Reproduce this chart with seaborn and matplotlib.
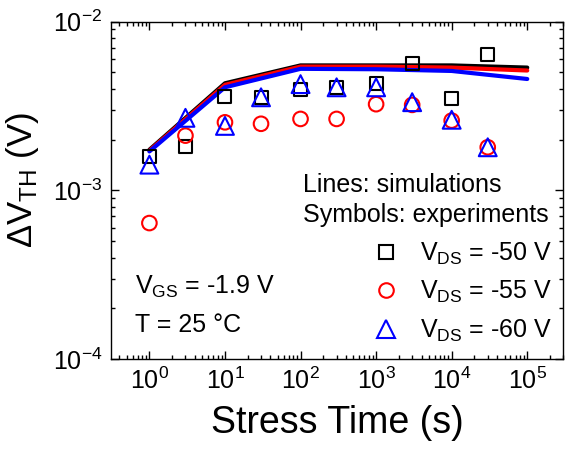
import numpy as np
import pandas as pd
import matplotlib
matplotlib.use('Agg')
import matplotlib.pyplot as plt
import seaborn as sns
from matplotlib.lines import Line2D
from matplotlib.ticker import LogLocator, FixedLocator, NullFormatter

sns.set_style('ticks', {'text.color': 'black', 'axes.labelcolor': 'black',
                        'xtick.color': 'black', 'ytick.color': 'black',
                        'axes.edgecolor': 'black'})
plt.rcParams['font.family'] = ['Liberation Sans', 'DejaVu Sans']
plt.rcParams['mathtext.fontset'] = 'custom'
plt.rcParams['mathtext.rm'] = 'Liberation Sans'
plt.rcParams['mathtext.it'] = 'Liberation Sans'

# experiment times and measured shifts
t_exp = [1, 3, 10, 30, 100, 300, 1000, 3000, 10000, 30000]
dvth_50 = [1.58e-3, 1.82e-3, 3.6e-3, 3.56e-3, 3.98e-3, 4.07e-3, 4.32e-3, 5.68e-3, 3.48e-3, 6.35e-3]
dvth_55 = [6.4e-4, 2.11e-3, 2.53e-3, 2.48e-3, 2.65e-3, 2.65e-3, 3.24e-3, 3.21e-3, 2.59e-3, 1.80e-3]
dvth_60 = [1.42e-3, 2.69e-3, 2.41e-3, 3.56e-3, 4.26e-3, 4.08e-3, 4.08e-3, 3.33e-3, 2.62e-3, 1.80e-3]

# simulation curves
t_sim = [1, 10, 100, 1000, 10000, 100000]
sim_50 = [1.74e-3, 4.31e-3, 5.5e-3, 5.5e-3, 5.5e-3, 5.34e-3]
sim_55 = [1.72e-3, 4.22e-3, 5.41e-3, 5.41e-3, 5.34e-3, 5.13e-3]
sim_60 = [1.70e-3, 4.08e-3, 5.25e-3, 5.22e-3, 5.1e-3, 4.57e-3]

x_ticks = [1, 10, 100, 1000, 10000, 100000]
y_ticks = [1e-4, 1e-3, 1e-2]

labels = ['-50', '-55', '-60']
colors = ['black', 'red', 'blue']
markers = ['s', 'o', '^']
msizes = [88, 110, 165]

fig = plt.figure(figsize=(5.69, 4.5), dpi=100)
ax = fig.add_axes([0.195, 0.202, 0.795, 0.750])

for sim, c in zip([sim_50, sim_55, sim_60], colors):
    sns.lineplot(x=t_sim, y=sim, color=c, lw=3, ax=ax, legend=False)

handles = []
for exp, c, m, s, lab in zip([dvth_50, dvth_55, dvth_60], colors, markers, msizes, labels):
    sns.scatterplot(x=t_exp, y=exp, marker=m, s=s, facecolors='none',
                    edgecolor=c, linewidth=1.5, ax=ax, legend=False, zorder=3)
    handles.append(Line2D([], [], ls='', marker=m, mfc='none', mec=c, mew=1.5,
                          ms=np.sqrt(s), label=r'V$_{\rm DS}$ = ' + lab + ' V'))

ax.set_xscale('log')
ax.set_yscale('log')
ax.set_xlim(0.31, 3e5)
ax.set_ylim(1e-4, 1e-2)
ax.xaxis.set_major_locator(FixedLocator(x_ticks))
ax.yaxis.set_major_locator(FixedLocator(y_ticks))
ax.xaxis.set_minor_locator(LogLocator(base=10, subs=np.arange(2, 10), numticks=20))
ax.yaxis.set_minor_locator(LogLocator(base=10, subs=np.arange(2, 10), numticks=20))
ax.xaxis.set_minor_formatter(NullFormatter())
ax.yaxis.set_minor_formatter(NullFormatter())
ax.tick_params(which='both', direction='in', top=True, right=True, width=1)
ax.tick_params(which='major', length=6, labelsize=18, pad=6)
ax.tick_params(which='minor', length=3)
for sp in ax.spines.values():
    sp.set_linewidth(1)

ax.set_xlabel('Stress Time (s)', fontsize=27, labelpad=8)
ax.set_ylabel(r'$\Delta$V$_{\rm TH}$ (V)', fontsize=25, labelpad=0)
ax.yaxis.set_label_coords(-0.155, 0.53)

ax.text(0.425, 0.516, 'Lines: simulations', transform=ax.transAxes,
        ha='left', va='center', fontsize=18)
ax.text(0.425, 0.427, 'Symbols: experiments', transform=ax.transAxes,
        ha='left', va='center', fontsize=18)
ax.text(0.054, 0.214, r'V$_{\rm GS}$ = -1.9 V', transform=ax.transAxes,
        ha='left', va='center', fontsize=18)
ax.text(0.054, 0.102, 'T = 25 °C', transform=ax.transAxes,
        ha='left', va='center', fontsize=18)

ax.legend(handles=handles, loc='lower right', frameon=False, fontsize=18,
          handlelength=1.0, handletextpad=0.86, labelspacing=0.5,
          borderaxespad=0, borderpad=0, bbox_to_anchor=(0.975, 0.045))

fig.savefig('out.png', dpi=100)
